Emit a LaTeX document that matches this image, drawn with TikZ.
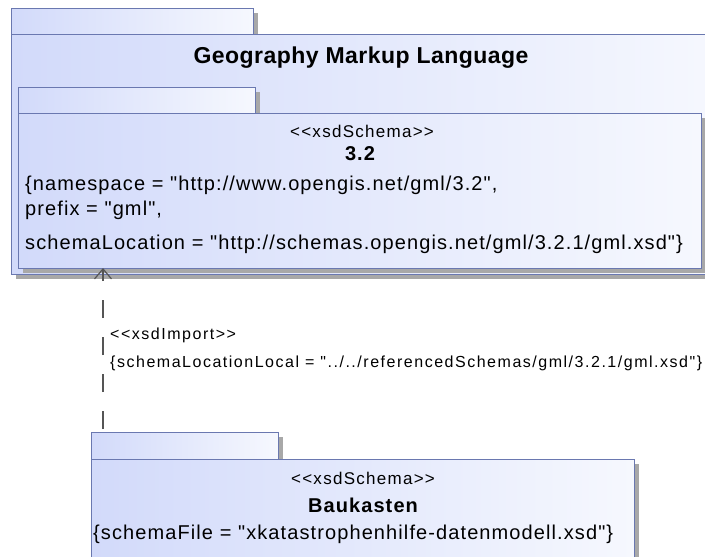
\documentclass[tikz,border=0pt]{standalone}
\usepackage{fontspec}
\setmainfont{Liberation Sans}
\newfontfamily\boxfont[LetterSpace=5.5]{Liberation Sans}
\newfontfamily\titlefont[LetterSpace=2]{Liberation Sans}
\newfontfamily\stereofont[LetterSpace=7.5]{Liberation Sans}
\newfontfamily\tagfont[LetterSpace=9.5]{Liberation Sans}
\usetikzlibrary{arrows.meta,positioning,shadows}

\definecolor{pkgline}{RGB}{106,120,176}
\definecolor{pkgleft}{RGB}{210,218,250}
\definecolor{pkgright}{RGB}{246,248,254}
\definecolor{pkgshade}{RGB}{168,168,168}
\definecolor{deplink}{RGB}{85,85,85}

\tikzset{
  pkg/.style={draw=pkgline, line width=1pt, left color=pkgleft, right color=pkgright,
    inner sep=0pt, outer sep=0pt, anchor=north west,
    drop shadow={shadow xshift=5pt, shadow yshift=-5pt, fill=pkgshade, opacity=1}},
  stereo/.style={font=\stereofont\fontsize{17}{19}\selectfont, inner sep=0pt},
  pkgname/.style={font=\boxfont\fontsize{20}{24}\selectfont\bfseries, inner sep=0pt},
  tagval/.style={font=\boxfont\fontsize{20}{24}\selectfont, inner sep=0pt, anchor=mid west},
  linklabel/.style={font=\tagfont\fontsize{16}{18}\selectfont, inner sep=0pt, anchor=mid west}
}

\begin{document}
\begin{tikzpicture}[x=1pt, y=-1pt]
  \useasboundingbox (0,0) rectangle (705,557);
  \clip (0,0) rectangle (705,557);

  % Geography Markup Language
  \node[pkg, minimum width=242pt, minimum height=26pt] (gmltab) at (11,8) {};
  \node[pkg, minimum width=712pt, minimum height=240pt] (gmlbody) at (11,34) {};
  \node[pkgname, font=\titlefont\fontsize{23}{27}\selectfont\bfseries] (gmltitle) at (361,58) {Geography Markup Language};

  % 3.2
  \node[pkg, minimum width=237pt, minimum height=26pt] (vtab) at (18,87) {};
  \node[pkg, minimum width=683pt, minimum height=155pt] (vbody) at (18,113) {};
  \node[stereo] (vstereo) at (362,131) {<<xsdSchema>>};
  \node[pkgname] (vname) at (360,154) {3.2};
  \node[tagval] (vns) at (25,188) {\{namespace = "http://www.opengis.net/gml/3.2",};
  \node[tagval] (vprefix) at (25,213) {prefix = "gml",};
  \node[tagval] (vloc) at (25,247) {schemaLocation = "http://schemas.opengis.net/gml/3.2.1/gml.xsd"\}};

  % Baukasten
  \node[pkg, minimum width=187pt, minimum height=27pt] (bktab) at (91,432) {};
  \node[pkg, minimum width=543pt, minimum height=120pt] (bkbody) at (91,459) {};
  \node[stereo] (bkstereo) at (363,478) {<<xsdSchema>>};
  \node[pkgname] (bkname) at (363,505) {Baukasten};
  \node[tagval] (bkfile) at (93,537) {\{schemaFile = "xkatastrophenhilfe-datenmodell.xsd"\}};

  % xsdImport
  \coordinate (impfoot) at ([xshift=12pt, yshift=3pt]bktab.north west);
  \draw[deplink, line width=1.2pt, dash pattern=on 18pt off 19pt,
        -{Straight Barb[length=10pt, width=17pt, line width=1.2pt]}]
    (impfoot) -- (impfoot |- vbody.south);
  \node[linklabel] (impstereo) at (110,337) {<<xsdImport>>};
  \node[linklabel] (imptag) at (110,365) {\{schemaLocationLocal = "../../referencedSchemas/gml/3.2.1/gml.xsd"\}};
\end{tikzpicture}
\end{document}
